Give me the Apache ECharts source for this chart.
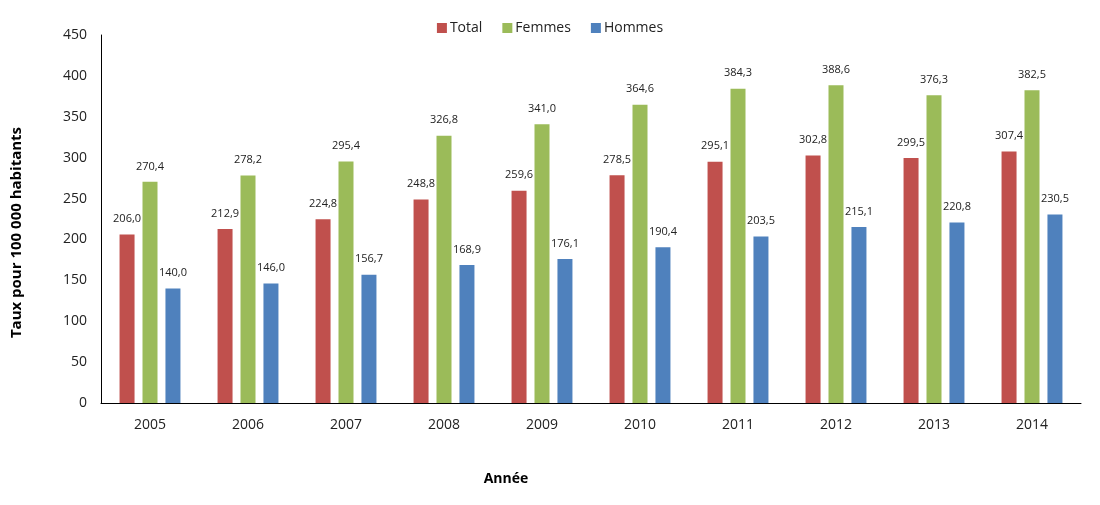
<!DOCTYPE html>
<html><head><meta charset="utf-8">
<script src="https://cdn.jsdelivr.net/npm/echarts@6/dist/echarts.min.js"></script>
<style>html,body{margin:0;padding:0;background:#fff}#c{width:1100px;height:505px}</style>
</head><body><div id="c"></div>
<script>
const years = ['2005','2006','2007','2008','2009','2010','2011','2012','2013','2014'];
const total = [206.0,212.9,224.8,248.8,259.6,278.5,295.1,302.8,299.5,307.4];
const femmes = [270.4,278.2,295.4,326.8,341.0,364.6,384.3,388.6,376.3,382.5];
const hommes = [140.0,146.0,156.7,168.9,176.1,190.4,203.5,215.1,220.8,230.5];
const F = 'Open Sans, Noto Sans, sans-serif';
const lbl = {show:true, position:'top', distance:10, fontFamily:F, fontSize:11, color:'#222',
  formatter:p=>p.value.toFixed(1).replace('.',',')};
function s(name, data, color){
  return {name, type:'bar', data, barWidth:15, barGap:'53%', barCategoryGap:'38%',
    itemStyle:{color}, label:lbl};
}
const chart = echarts.init(document.getElementById('c'));
chart.setOption({
  animation:false,
  legend:{top:16, left:'center', itemWidth:10, itemHeight:10, itemGap:20, icon:'rect',
    textStyle:{fontFamily:F, fontSize:14, color:'#222', padding:[0,0,0,-2]}},
  grid:{left:101, right:19, top:35, bottom:102},
  xAxis:{type:'category', data:years, name:'Année', nameLocation:'middle', nameGap:69,
    nameTextStyle:{fontFamily:F, fontSize:14, fontWeight:'bold', color:'#000', padding:[0,170,0,0]},
    axisLine:{lineStyle:{color:'#000'}}, axisTick:{show:false},
    axisLabel:{fontFamily:F, fontSize:14, color:'#222', margin:15}},
  yAxis:{type:'value', min:0, max:450, interval:50, name:'Taux pour 100 000 habitants',
    nameLocation:'middle', nameGap:77, nameRotate:90,
    nameTextStyle:{fontFamily:F, fontSize:15, fontWeight:'bold', color:'#000', padding:[0,27,0,0]},
    axisLine:{show:true, lineStyle:{color:'#000'}}, axisTick:{show:false}, splitLine:{show:false},
    axisLabel:{fontFamily:F, fontSize:14, color:'#222', margin:14}},
  series:[s('Total',total,'#C0504D'), s('Femmes',femmes,'#9BBB59'), s('Hommes',hommes,'#4F81BD')]
});
</script></body></html>
